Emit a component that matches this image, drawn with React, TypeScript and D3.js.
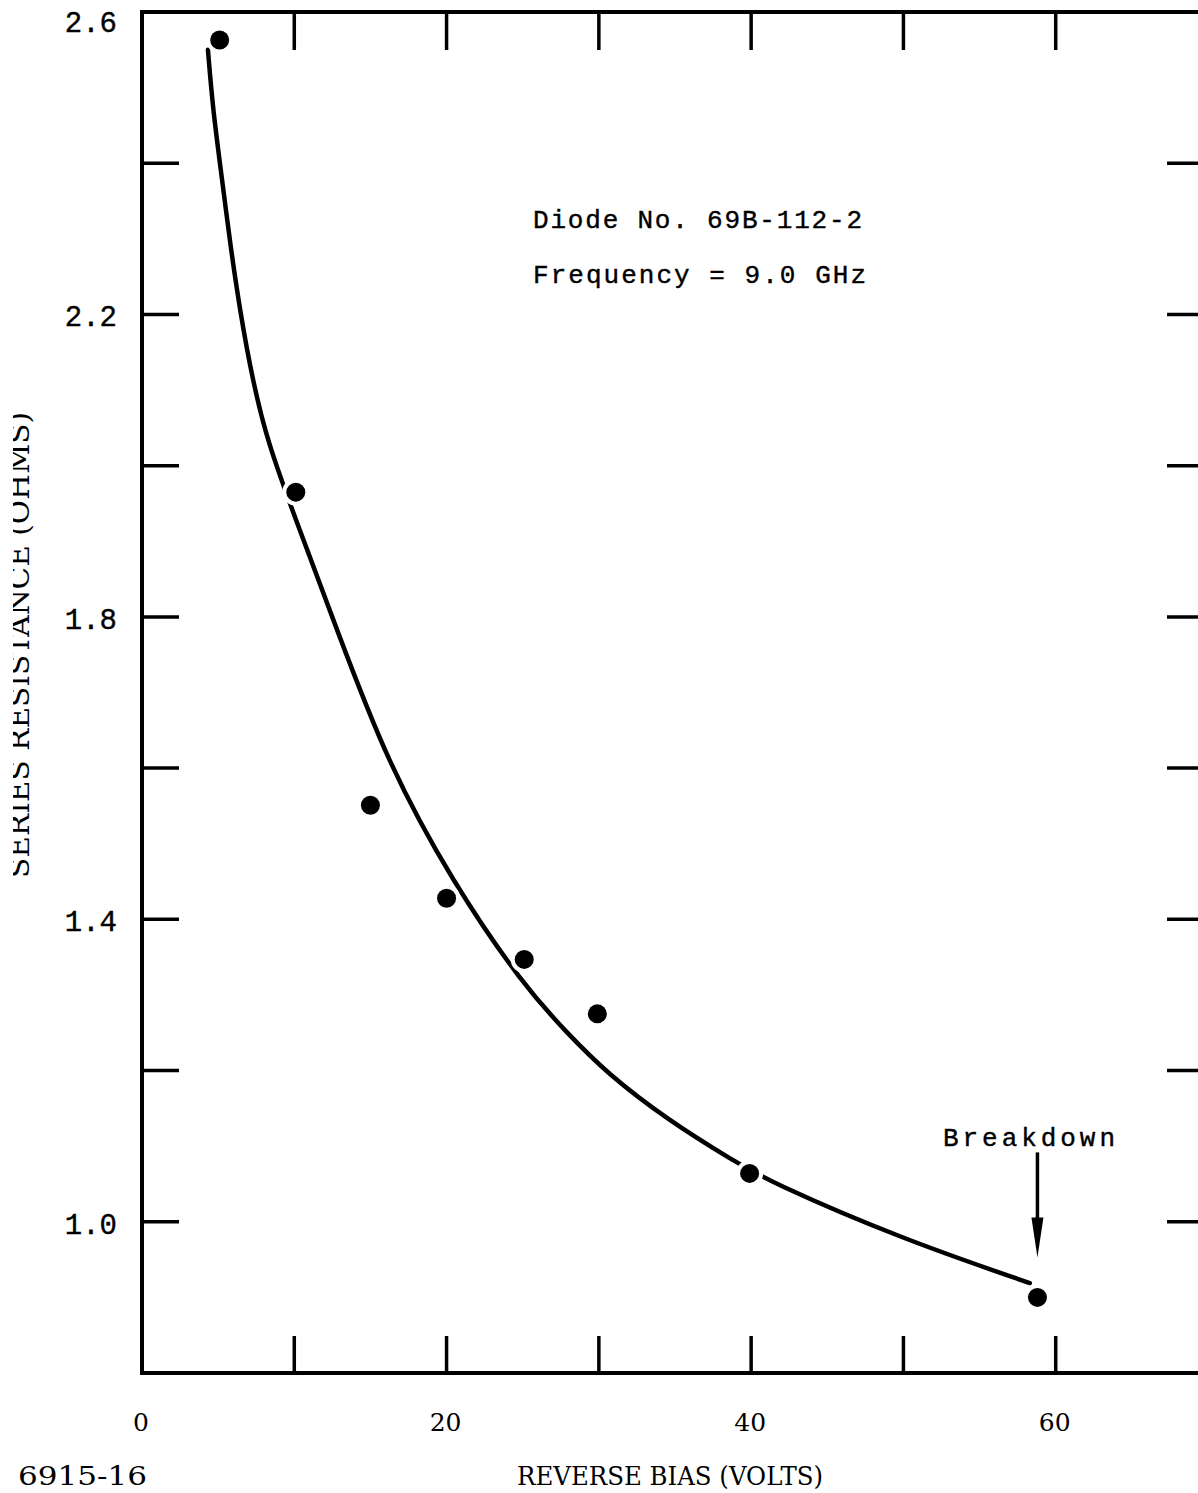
import React, { useEffect, useRef } from "react";
import * as d3 from "d3";

// measured points: reverse bias (V) vs series resistance (ohms)
const biasVolts = [5.1, 10.1, 15.0, 20.0, 25.1, 29.9, 39.9, 58.8];
const resistanceOhms = [2.563, 1.965, 1.551, 1.428, 1.347, 1.275, 1.064, 0.9];

// hand-drawn fitted curve
const curveVolts = [4.33, 4.66, 5.25, 5.78, 6.43, 7.29, 8.27, 9.98, 12.8, 16.09, 20.42, 25.0, 27.9, 30.5, 34.5, 38.9, 41.1, 49.8, 58.3];
const curveOhms = [2.55, 2.47, 2.38, 2.295, 2.205, 2.11, 2.03, 1.935, 1.783, 1.608, 1.448, 1.314, 1.25, 1.197, 1.135, 1.08, 1.054, 0.978, 0.919];

const xTickValues = [10, 20, 30, 40, 50, 60];
const xTickLabels = [0, 20, 40, 60];
const yTickValues = [1.0, 1.2, 1.4, 1.6, 1.8, 2.0, 2.2, 2.4];
const yTickLabels = ["1.0", "1.4", "1.8", "2.2", "2.6"];

const App: React.FC = () => {
  const svgRef = useRef<SVGSVGElement>(null);

  useEffect(() => {
    if (!svgRef.current) return;
    const svg = d3.select(svgRef.current);
    svg.selectAll("*").remove();

    const x = d3.scaleLinear().domain([0, 70]).range([142, 1208]);
    const y = d3.scaleLinear().domain([0.8, 2.6]).range([1373, 12]);

    const mono = "'Liberation Mono', 'DejaVu Sans Mono', monospace";
    const serif = "'DejaVu Serif', 'Liberation Serif', serif";

    // scan cuts the y title on the left
    svg
      .append("defs")
      .append("clipPath")
      .attr("id", "titleClip")
      .append("rect")
      .attr("x", 13)
      .attr("y", 0)
      .attr("width", 60)
      .attr("height", 1493);

    // frame
    svg
      .append("rect")
      .attr("x", x(0))
      .attr("y", y(2.6))
      .attr("width", x(70) - x(0))
      .attr("height", y(0.8) - y(2.6))
      .attr("fill", "none")
      .attr("stroke", "#000")
      .attr("stroke-width", 4);

    // top and bottom ticks
    const ticks = svg.append("g").attr("stroke", "#000").attr("stroke-width", 3.5);
    xTickValues.forEach((v) => {
      ticks.append("line").attr("x1", x(v)).attr("x2", x(v)).attr("y1", y(2.6)).attr("y2", y(2.6) + 38);
      ticks.append("line").attr("x1", x(v)).attr("x2", x(v)).attr("y1", y(0.8)).attr("y2", y(0.8) - 37);
    });
    // left and right ticks
    yTickValues.forEach((v) => {
      ticks.append("line").attr("x1", x(0)).attr("x2", x(0) + 37).attr("y1", y(v)).attr("y2", y(v));
      ticks.append("line").attr("x1", x(70) - 41).attr("x2", x(70)).attr("y1", y(v)).attr("y2", y(v));
    });

    // y tick labels
    svg
      .selectAll(".ylab")
      .data(yTickLabels)
      .enter()
      .append("text")
      .attr("x", 117)
      .attr("y", (d) => Math.max(y(+d) + 12, 32))
      .attr("text-anchor", "end")
      .style("font-family", mono)
      .style("font-size", "29px")
      .style("stroke", "#000")
      .style("stroke-width", 0.4)
      .text((d) => d);

    // x tick labels
    svg
      .selectAll(".xlab")
      .data(xTickLabels)
      .enter()
      .append("text")
      .attr("x", (d) => x(d) - 1)
      .attr("y", 1431)
      .attr("text-anchor", "middle")
      .style("font-family", serif)
      .style("font-size", "25px")
      .text((d) => String(d));

    // axis titles
    svg
      .append("text")
      .attr("x", 517)
      .attr("y", 1485)
      .attr("textLength", 306)
      .attr("lengthAdjust", "spacingAndGlyphs")
      .style("font-family", serif)
      .style("font-size", "26px")
      .text("REVERSE BIAS (VOLTS)");

    svg
      .append("text")
      .attr("x", 18)
      .attr("y", 1485)
      .attr("textLength", 129)
      .attr("lengthAdjust", "spacingAndGlyphs")
      .style("font-family", serif)
      .style("font-size", "26px")
      .text("6915-16");

    svg
      .append("g")
      .attr("clip-path", "url(#titleClip)")
      .append("text")
      .attr("transform", "translate(29,645) rotate(-90)")
      .attr("text-anchor", "middle")
      .attr("textLength", 466)
      .attr("lengthAdjust", "spacingAndGlyphs")
      .style("font-family", serif)
      .style("font-size", "27px")
      .text("SERIES RESISTANCE (OHMS)");

    // annotation
    svg
      .append("text")
      .attr("x", 533)
      .attr("y", 228)
      .attr("textLength", 329)
      .attr("lengthAdjust", "spacing")
      .style("font-family", mono)
      .style("font-size", "26px")
      .style("stroke", "#000")
      .style("stroke-width", 0.4)
      .text("Diode No. 69B-112-2");
    svg
      .append("text")
      .attr("x", 533)
      .attr("y", 283)
      .attr("textLength", 333)
      .attr("lengthAdjust", "spacing")
      .style("font-family", mono)
      .style("font-size", "26px")
      .style("stroke", "#000")
      .style("stroke-width", 0.4)
      .text("Frequency = 9.0 GHz");

    // fitted curve
    const line = d3
      .line<number>()
      .x((_, i) => x(curveVolts[i]))
      .y((d) => y(d))
      .curve(d3.curveBasis);
    svg
      .append("path")
      .attr("d", line(curveOhms) || "")
      .attr("fill", "none")
      .attr("stroke", "#000")
      .attr("stroke-width", 4.5)
      .attr("stroke-linecap", "round");

    // white gaps where the curve meets the points
    svg
      .selectAll(".halo")
      .data(biasVolts)
      .enter()
      .append("circle")
      .attr("cx", (d) => x(d))
      .attr("cy", (_, i) => y(resistanceOhms[i]))
      .attr("r", 13.5)
      .attr("fill", "#fff");

    svg
      .selectAll(".dot")
      .data(biasVolts)
      .enter()
      .append("circle")
      .attr("cx", (d) => x(d))
      .attr("cy", (_, i) => y(resistanceOhms[i]))
      .attr("r", 9.5)
      .attr("fill", "#000");

    // breakdown arrow
    const bx = x(biasVolts[biasVolts.length - 1]);
    const tipY = y(resistanceOhms[resistanceOhms.length - 1]) - 40;
    svg
      .append("line")
      .attr("x1", bx)
      .attr("x2", bx)
      .attr("y1", tipY - 105)
      .attr("y2", tipY - 30)
      .attr("stroke", "#000")
      .attr("stroke-width", 3.5);
    svg
      .append("path")
      .attr("d", `M${bx - 6},${tipY - 40} L${bx + 6},${tipY - 40} L${bx},${tipY} Z`)
      .attr("fill", "#000");
    svg
      .append("text")
      .attr("x", 943)
      .attr("y", 1146)
      .attr("textLength", 172)
      .attr("lengthAdjust", "spacing")
      .style("font-family", mono)
      .style("font-size", "26px")
      .style("stroke", "#000")
      .style("stroke-width", 0.4)
      .text("Breakdown");
  }, []);

  return (
    <svg
      ref={svgRef}
      width={1198}
      height={1493}
      style={{ position: "absolute", left: 0, top: 0, background: "#fff" }}
    ></svg>
  );
};

export default App;
